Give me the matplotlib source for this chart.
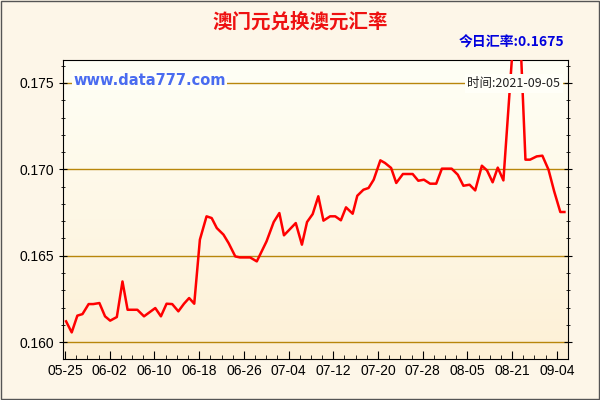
import matplotlib
matplotlib.use("Agg")
import matplotlib.pyplot as plt
import numpy as np
from matplotlib.ticker import MultipleLocator
from matplotlib.colors import LinearSegmentedColormap

plt.rcParams['font.family'] = ['Noto Sans CJK SC', 'DejaVu Sans']

x = [0.2,1.3,2.4,3.4,4.6,5.5,6.7,7.8,8.8,10.1,11.2,12.2,14.1,15.4,17.6,18.7,19.8,20.9,22.1,23.2,24.2,25.2,
     26.3,27.6,28.6,29.6,30.9,31.9,33.2,34.1,36.1,37.4,39.3,40.7,41.8,42.7,45.0,46.2,47.2,48.3,49.4,50.4,
     51.7,52.7,53.8,54.8,56.1,57.0,58.2,59.2,60.2,61.5,62.4,63.6,64.6,65.9,67.8,68.9,70.0,71.2,72.4,73.5,
     75.4,76.6,77.7,78.9,80.0,81.3,82.3,83.4,84.4,85.5,87.3,88.9,89.8,90.7,92.0,93.1,94.3,95.4,96.6,97.4]
rate = [0.16120,0.16056,0.16153,0.16162,0.16220,0.16220,0.16226,0.16149,0.16124,0.16145,0.16351,0.16187,
        0.16187,0.16149,0.16197,0.16149,0.16222,0.16220,0.16178,0.16222,0.16255,0.16222,0.16593,0.16728,
        0.16718,0.16660,0.16622,0.16573,0.16496,0.16490,0.16490,0.16467,0.16583,0.16695,0.16747,0.16618,
        0.16689,0.16564,0.16695,0.16741,0.16844,0.16703,0.16728,0.16728,0.16705,0.16780,0.16743,0.16847,
        0.16882,0.16892,0.16940,0.17052,0.17037,0.17008,0.16921,0.16973,0.16973,0.16934,0.16940,0.16917,
        0.16917,0.17004,0.17004,0.16969,0.16905,0.16911,0.16878,0.17021,0.16994,0.16925,0.17010,0.16936,
        0.1770,0.1770,0.17056,0.17056,0.17075,0.17079,0.16998,0.16873,0.16753,0.16753]
tick_pos = [0, 8.72, 17.44, 26.16, 34.88, 43.6, 52.32, 61.04, 69.76, 78.48, 87.2, 95.92]
tick_labels = ['05-25','06-02','06-10','06-18','06-26','07-04','07-12','07-20','07-28','08-05','08-21','09-04']
yticks = [0.160, 0.165, 0.170, 0.175]

fig = plt.figure(figsize=(6, 4), dpi=100, facecolor='#fdf6e8')
ax = fig.add_axes([63/600, 1-359/400, 505/600, 299/400])
xlim = (-0.4, 98.1); ylim = (0.15902, 0.17633)
ax.set_xlim(*xlim); ax.set_ylim(*ylim)
grad = np.linspace(0, 1, 256).reshape(-1, 1)
cm = LinearSegmentedColormap.from_list('g', ['#fdf0d6', '#fffff6'])
ax.imshow(grad, aspect='auto', cmap=cm, extent=[*xlim, *ylim], origin='lower', zorder=0)
for v in yticks:
    ax.axhline(v, color='#b8860b', lw=1, zorder=1)
ax.plot(x, rate, color='#ff0000', lw=1.8, zorder=3)
ax.set_yticks(yticks)
ax.set_yticklabels(['%.3f' % v for v in yticks], fontsize=10, family='Liberation Sans')
ax.yaxis.set_minor_locator(MultipleLocator(0.001))
ax.set_xticks(tick_pos)
ax.set_xticklabels(tick_labels, fontsize=10, family='Liberation Sans')
ax.xaxis.set_minor_locator(MultipleLocator(2.18))
ax.tick_params(direction='in', which='both', top=False, right=True, labelright=False)
ax.tick_params(which='major', length=6)
ax.tick_params(which='minor', length=3)
ax.tick_params(axis='y', which='both', direction='inout')
for s in ax.spines.values():
    s.set_color('black')
ax.text(0.02, 0.915, 'www.data777.com', transform=ax.transAxes, color='#4a6cf0',
        fontsize=10.5, fontweight='bold', family='DejaVu Sans', zorder=5,
        bbox=dict(facecolor='#fffff8', edgecolor='none', pad=1))
ax.text(0.985, 0.91, '时间:2021-09-05', transform=ax.transAxes, ha='right', color='#222222',
        fontsize=9, zorder=5, bbox=dict(facecolor='#fffff8', edgecolor='none', pad=2))
fig.text(0.5, 0.945, '澳门元兑换澳元汇率', ha='center', va='center', color='#ee1111',
         fontsize=14, fontweight='bold')
fig.text(0.94, 0.893, '今日汇率:0.1675', ha='right', va='center', color='#0000dd',
         fontsize=10, fontweight='bold')
fig.patches.append(plt.Rectangle((0.002, 0.002), 0.996, 0.995, transform=fig.transFigure,
                                 fill=False, edgecolor='#555555', lw=1))
fig.savefig('out.png', dpi=100, facecolor=fig.get_facecolor())
